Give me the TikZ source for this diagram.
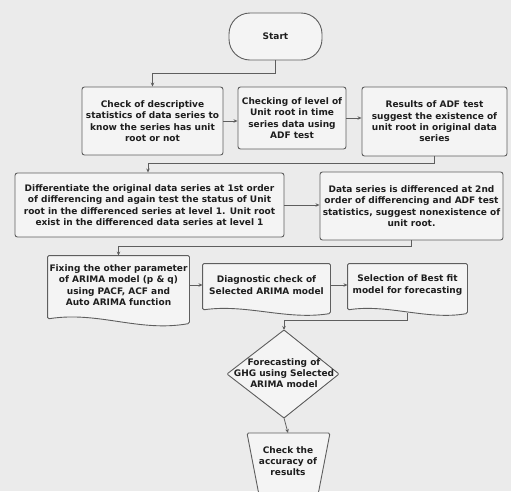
\documentclass[tikz,border=0pt]{standalone}
\usepackage{fontspec}
\setmainfont{DejaVu Sans}
\usetikzlibrary{calc,arrows.meta,backgrounds}
\definecolor{bgc}{HTML}{EBEBEB}
\definecolor{boxc}{HTML}{F4F4F4}
\definecolor{linec}{HTML}{5E5E5E}
\definecolor{txtc}{HTML}{1E1E1E}
\begin{document}
\begin{tikzpicture}[x=1pt,y=-1pt,
  box/.style={draw=linec, fill=boxc, line width=0.9pt, rounded corners=2.5pt, align=center,
    inner sep=0pt, text=txtc, font=\fontsize{9}{11.3}\selectfont\bfseries},
  plain/.style={box, draw=none, fill=none},
  shapeline/.style={draw=linec, fill=boxc, line width=0.9pt, rounded corners=1.5pt},
  conn/.style={draw=linec, line width=0.8pt, -{Stealth[length=4pt,width=3.5pt]}},
]
\begin{scope}[on background layer]
\fill[bgc] (0,0) rectangle (511,491);
\end{scope}
\useasboundingbox (0,0) rectangle (511,491);

% start
\node[box, rounded corners=21pt, minimum width=93pt, minimum height=47pt] (start) at (275.5,36.5) {Start};

% row 1
\node[box, minimum width=141pt, minimum height=68pt] (b1) at (152.5,121)
  {Check of descriptive\\statistics of data series to\\know the series has unit\\root or not};
\node[box, minimum width=108pt, minimum height=62pt] (b2) at (292,118)
  {Checking of level of\\Unit root in time\\series data using\\ADF test};
\node[box, minimum width=145pt, minimum height=69pt] (b3) at (434.5,121.5)
  {Results of ADF test\\suggest the existence of\\unit root in original data\\series};

% row 2
\node[box, minimum width=269pt, minimum height=64pt] (b4) at (149.5,205)
  {Differentiate the original data series at 1st order\\of differencing and again test the status of Unit\\root in the differenced series at level 1. Unit root\\exist in the differenced data series at level 1};
\node[box, minimum width=183pt, minimum height=68pt] (b5) at (411.5,206)
  {Data series is differenced at 2nd\\order of differencing and ADF test\\statistics, suggest nonexistence of\\unit root.};

% row 3 (document shapes)
\node[plain, minimum width=141pt, minimum height=58pt] (b6) at (118.5,285)
  {Fixing the other parameter\\of ARIMA model (p \& q)\\using PACF, ACF and\\Auto ARIMA function};
\node[plain, minimum width=127pt, minimum height=42pt] (b7) at (266.5,285)
  {Diagnostic check of\\Selected ARIMA model};
\node[plain, minimum width=119pt, minimum height=42pt] (b8) at (407.5,285)
  {Selection of Best fit\\model for forecasting};

\begin{scope}[on background layer]
\foreach \n/\a in {b6/9,b7/7,b8/7}{
  \draw[shapeline] (\n.north west) -- (\n.north east) -- ($(\n.south east)+(0,\a)$)
    .. controls ($(\n.south)+(20,2*\a)$) and ($(\n.south)+(-20,-0.4*\a)$) .. ($(\n.south west)+(0,0.5*\a)$) -- cycle;
}
\end{scope}

% decision
\node[plain] (fc) at (284,373) {Forecasting of\\GHG using Selected\\ARIMA model};
\coordinate (fctop) at ($(fc)+(0,-43)$);
\coordinate (fcbot) at ($(fc)+(0,45)$);
\begin{scope}[on background layer]
\draw[shapeline, rounded corners=1pt] (fctop) -- ($(fc)+(55,1)$) -- (fcbot) -- ($(fc)+(-57,1)$) -- cycle;
\end{scope}

% final
\node[plain] (chk) at (288,461) {Check the\\accuracy of\\results};
\coordinate (chktop) at ($(chk)+(0,-28)$);
\begin{scope}[on background layer]
\draw[shapeline] ($(chk)+(-41,-28)$) -- ($(chk)+(42,-28)$) -- ($(chk)+(30,34)$) -- ($(chk)+(-29,34)$) -- cycle;
\end{scope}

% connectors
\draw[conn] (start.south) -- ++(0,13) -| (b1.north);
\draw[conn] (b1.east) -- (b1.east -| b2.west);
\draw[conn] (b2.east) -- (b2.east -| b3.west);
\draw[conn] (b3.south) -- ++(0,7) -| ($(b4.north)+(-1.5,0)$);
\draw[conn] (b4.east) -- (b4.east -| b5.west);
\draw[conn] (b5.south) -- ++(0,5.5) -| (b6.north);
\draw[conn] (b6.east |- b7.west) -- (b7.west);
\draw[conn] (b7.east) -- (b8.west);
\draw[conn] ($(b8.south)+(0,7)$) -- ++(0,7) -| (fctop);
\draw[conn] (fcbot) -- (chktop);
\end{tikzpicture}
\end{document}
